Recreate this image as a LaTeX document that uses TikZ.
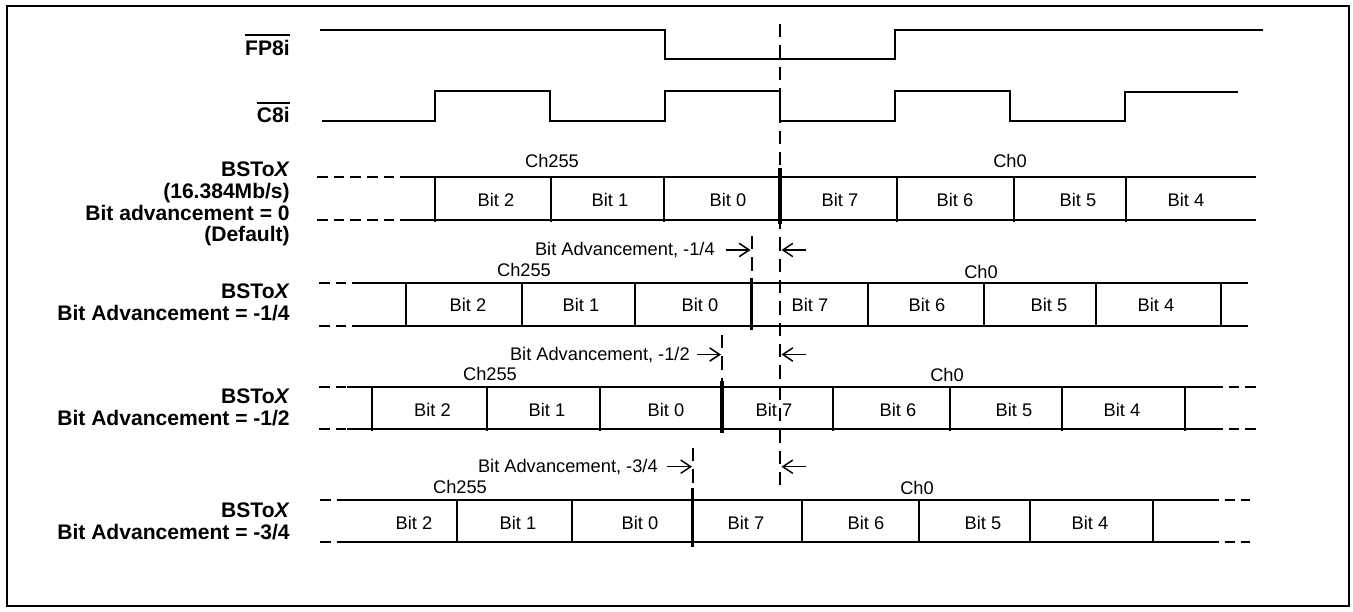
\documentclass[tikz,border=0pt]{standalone}
\usepackage{fontspec}
\setmainfont{Liberation Sans}
\usetikzlibrary{arrows.meta}
\newcommand\ovlbar[1]{\vbox{\hrule height 1.5pt\kern 2.8pt\hbox{#1}}}
\begin{document}
\begin{tikzpicture}[x=0.75pt,y=-0.75pt,
  wave/.style={line width=1.5pt,line join=miter},
  cell/.style={line width=1.5pt},
  thk/.style={line width=2.4pt},
  dsh/.style={line width=1.5pt,dash pattern=on 8pt off 4.5pt},
  vdsh/.style={line width=1.5pt,dash pattern=on 10pt off 6pt},
  lbl/.style={font=\fontsize{15.8}{16.3}\selectfont\bfseries,anchor=base east,inner sep=0pt},
  txt/.style={font=\fontsize{13.7}{15}\selectfont,inner sep=0pt},
  adv/.style={line width=1.1pt,-{Straight Barb[length=7.5pt,width=10pt]}}]
\useasboundingbox (0,0) rectangle (1353,611);
\draw[line width=1.5pt] (7,6) rectangle (1349,606);

% signal labels
\node[lbl] (fp) at (290,55) {\ovlbar{FP8i}};
\node[lbl] (c8) at (290,122.5) {\ovlbar{C8i}};
\node[lbl] (l1a) at (290,176.7) {BSTo\textit{X}};
\node[lbl] (l1b) at (290,198.4) {(16.384Mb/s)};
\node[lbl] (l1c) at (290,220) {Bit advancement = 0};
\node[lbl] (l1d) at (290,241.7) {(Default)};
\node[lbl] (l2a) at (290,298.3) {BSTo\textit{X}};
\node[lbl] (l2b) at (290,320) {Bit Advancement = -1/4};
\node[lbl] (l3a) at (290,403.3) {BSTo\textit{X}};
\node[lbl] (l3b) at (290,425) {Bit Advancement = -1/2};
\node[lbl] (l4a) at (290,517.7) {BSTo\textit{X}};
\node[lbl] (l4b) at (290,539.4) {Bit Advancement = -3/4};

% FP8i and C8i waveforms
\draw[wave] (320,30) -- (665,30) -- (665,59) -- (895,59) -- (895,30) -- (1263,30);
\draw[wave] (322,121) -- (435,121) -- (435,91) -- (550,91) -- (550,121) -- (665,121)
  -- (665,91) -- (780,91) -- (780,121) -- (895,121) -- (895,91) -- (1010,91)
  -- (1010,121) -- (1125,121) -- (1125,92) -- (1238,92);

% reference dashed line
\draw[vdsh] (780,24) -- (780,493);

% Row 1
\draw[dsh] (317,176.7) -- (403,176.7);
\draw[dsh] (317,220) -- (403,220);
\draw[cell] (403,176.7) -- (1256,176.7);
\draw[cell] (403,220) -- (1256,220);
\foreach \x in {435,551,664,896.7,1014,1126} \draw[cell] (\x,176.7) -- (\x,221.5);
\draw[thk] (780,168) -- (780,224);
\node[txt] (r1ch) at (552,161) {Ch255};
\node[txt] (r1c0) at (1010,161) {Ch0};
\foreach \x/\t in {496/2,610/1,728/0,840/7,955/6,1078/5,1186/4}
  \node[txt] (r1b\t) at (\x,200) {Bit \t};

% annotation 1
\node[txt,anchor=east] (a1) at (715,250.5) {Bit Advancement, -1/4};
\coordinate (a1s) at (726,250);
\coordinate (a1e) at (750.5,250);
\coordinate (a1r) at (806,250);
\coordinate (a1l) at (781.5,250);
\draw[adv] (a1s) -- (a1e);
\draw[adv] (a1r) -- (a1l);
\draw[vdsh] (751.7,236) -- (751.7,282);

% Row 2
\draw[dsh] (319,282.7) -- (352,282.7);
\draw[dsh] (319,325.7) -- (352,325.7);
\draw[cell] (352,282.7) -- (1248,282.7);
\draw[cell] (352,325.7) -- (1248,325.7);
\foreach \x in {406,522,635,868,984,1096,1221} \draw[cell] (\x,282.7) -- (\x,327);
\draw[thk] (751.7,278) -- (751.7,330);
\node[txt] (r2ch) at (524,270) {Ch255};
\node[txt] (r2c0) at (981,272) {Ch0};
\foreach \x/\t in {468/2,581/1,700/0,810/7,927/6,1049/5,1156/4}
  \node[txt] (r2b\t) at (\x,305) {Bit \t};

% annotation 2
\node[txt,anchor=east] (a2) at (690,355.5) {Bit Advancement, -1/2};
\coordinate (a2s) at (697,354.5);
\coordinate (a2e) at (721,354.5);
\coordinate (a2r) at (806,354.5);
\coordinate (a2l) at (781.5,354.5);
\draw[adv] (a2s) -- (a2e);
\draw[adv] (a2r) -- (a2l);
\draw[vdsh] (722,335) -- (722,386);

% Row 3
\draw[dsh] (319,386.7) -- (347,386.7);
\draw[dsh] (319,429) -- (347,429);
\draw[cell] (347,386.7) -- (1212,386.7);
\draw[cell] (347,429) -- (1212,429);
\draw[dsh] (1212,386.7) -- (1256,386.7);
\draw[dsh] (1212,429) -- (1256,429);
\foreach \x in {371.7,487,600,832.7,950,1061.7,1185} \draw[cell] (\x,386.7) -- (\x,430.5);
\draw[thk] (722,381) -- (722,433);
\node[txt] (r3ch) at (490,374) {Ch255};
\node[txt] (r3c0) at (947,375) {Ch0};
\foreach \x/\t in {432.5/2,547/1,666/0,774/7,898/6,1014/5,1122/4}
  \node[txt] (r3b\t) at (\x,410) {Bit \t};

% annotation 3
\node[txt,anchor=east] (a3) at (658,467) {Bit Advancement, -3/4};
\coordinate (a3s) at (667,466.7);
\coordinate (a3e) at (692,466.7);
\coordinate (a3r) at (806,466.7);
\coordinate (a3l) at (781.5,466.7);
\draw[adv] (a3s) -- (a3e);
\draw[adv] (a3r) -- (a3l);
\draw[vdsh] (692.7,448) -- (692.7,500);

% Row 4
\draw[dsh] (320,500.3) -- (347,500.3);
\draw[dsh] (320,541.7) -- (347,541.7);
\draw[cell] (347,500.3) -- (1208,500.3);
\draw[cell] (347,541.7) -- (1208,541.7);
\draw[dsh] (1208,500.3) -- (1250,500.3);
\draw[dsh] (1208,541.7) -- (1250,541.7);
\foreach \x in {456.7,572,802,919,1030,1153} \draw[cell] (\x,500.3) -- (\x,543);
\draw[thk] (692.7,488) -- (692.7,546.7);
\node[txt] (r4ch) at (460,487) {Ch255};
\node[txt] (r4c0) at (917,488) {Ch0};
\foreach \x/\t in {414/2,518/1,640/0,746/7,866/6,983/5,1090/4}
  \node[txt] (r4b\t) at (\x,523) {Bit \t};
\end{tikzpicture}
\end{document}
